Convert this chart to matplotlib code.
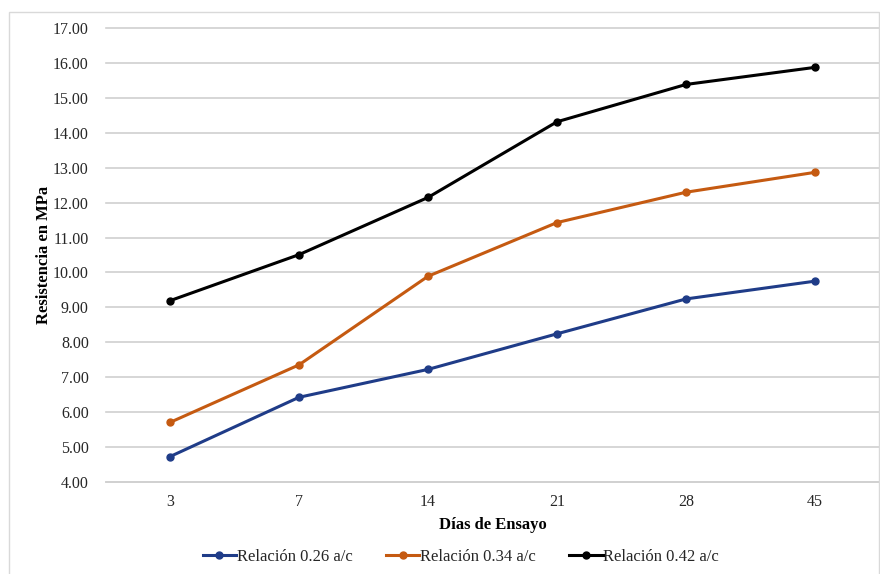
import matplotlib.pyplot as plt
from matplotlib.patches import Rectangle

plt.rcParams['font.family'] = ['Liberation Serif', 'DejaVu Serif']

dias = ['3', '7', '14', '21', '28', '45']
rel_026 = [4.72, 6.42, 7.22, 8.24, 9.24, 9.75]
rel_034 = [5.70, 7.35, 9.89, 11.43, 12.30, 12.87]
rel_042 = [9.19, 10.51, 12.15, 14.32, 15.39, 15.88]

series = [
    ('Relación 0.26 a/c', rel_026, '#1F3C88'),
    ('Relación 0.34 a/c', rel_034, '#C55A11'),
    ('Relación 0.42 a/c', rel_042, '#000000'),
]

fig = plt.figure(figsize=(8.8, 5.74), dpi=100)
fig.patches.append(Rectangle((9 / 880, -0.01), 870 / 880, 1 - 12 / 574 + 0.01,
                             transform=fig.transFigure, fill=False,
                             edgecolor='#D9D9D9', linewidth=1))

ax = fig.add_axes([105.5 / 880, 1 - 481.7 / 574, 774 / 880, 453.4 / 574])

x = range(len(dias))
for label, vals, color in series:
    ax.plot(x, vals, color=color, linewidth=2.2, marker='o', markersize=5, label=label)

ax.set_xlim(-0.5, len(dias) - 0.5)
ax.set_ylim(4, 17)
ax.set_yticks(range(4, 18))
ax.set_yticklabels([f'{v:.2f}' for v in range(4, 18)])
ax.set_xticks(list(x))
ax.set_xticklabels(dias)
ax.tick_params(axis='both', length=0, labelsize=11.5, colors='#262626')
ax.tick_params(axis='y', pad=12)
ax.tick_params(axis='x', pad=9)
ax.grid(axis='y', color='#D0D0D0', linewidth=1.2)
for gl in ax.get_ygridlines():
    gl.set_clip_on(False)
ax.set_axisbelow(True)
for side in ['left', 'right', 'top']:
    ax.spines[side].set_visible(False)
ax.spines['bottom'].set_color('#D0D0D0')
ax.spines['bottom'].set_linewidth(1.2)

ax.set_xlabel('Días de Ensayo', fontsize=12, fontweight='bold', labelpad=5)
ax.set_ylabel('Resistencia en MPa', fontsize=12, fontweight='bold', labelpad=1)

fig.legend(loc='center', bbox_to_anchor=(461 / 880, 1 - 557 / 574), ncol=3,
           frameon=False, fontsize=12, handlelength=2.0, handletextpad=0.05,
           columnspacing=2.0, labelcolor='#262626')

fig.savefig('out.png', dpi=100)
